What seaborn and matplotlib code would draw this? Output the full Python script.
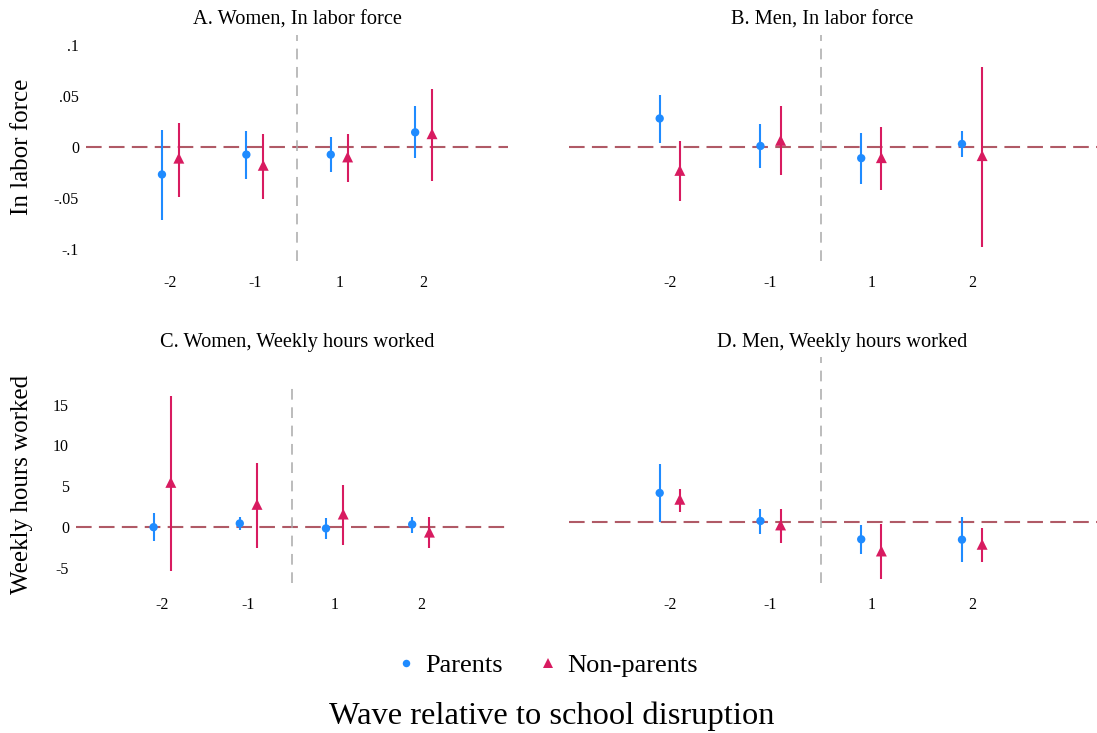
import numpy as np
import pandas as pd
import matplotlib
matplotlib.use("Agg")
import matplotlib.pyplot as plt
import seaborn as sns

# waves relative to the school disruption
waves = ["-2", "-1", "1", "2"]
groups = ["Parents", "Non-parents"]

# A. Women, in labor force
lf_w_par = [-0.027, -0.0075, -0.0075, 0.0144]
lf_w_par_lo = [-0.072, -0.031, -0.025, -0.011]
lf_w_par_hi = [0.017, 0.0157, 0.0098, 0.040]
lf_w_non = [-0.011, -0.018, -0.0098, 0.013]
lf_w_non_lo = [-0.049, -0.051, -0.034, -0.033]
lf_w_non_hi = [0.024, 0.013, 0.013, 0.057]

# B. Men, in labor force
lf_m_par = [0.028, 0.001, -0.011, 0.003]
lf_m_par_lo = [0.004, -0.021, -0.036, -0.010]
lf_m_par_hi = [0.051, 0.023, 0.014, 0.016]
lf_m_non = [-0.023, 0.0065, -0.0105, -0.0085]
lf_m_non_lo = [-0.053, -0.028, -0.042, -0.098]
lf_m_non_hi = [0.006, 0.040, 0.020, 0.079]

# C. Women, weekly hours worked
hr_w_par = [-0.05, 0.41, -0.2, 0.29]
hr_w_par_lo = [-1.72, -0.41, -1.5, -0.74]
hr_w_par_hi = [1.64, 1.23, 1.07, 1.23]
hr_w_non = [5.45, 2.75, 1.56, -0.66]
hr_w_non_lo = [-5.4, -2.62, -2.2, -2.62]
hr_w_non_hi = [16.07, 7.87, 5.12, 1.19]

# D. Men, weekly hours worked
hr_m_par = [3.12, 0.11, -1.86, -1.9]
hr_m_par_lo = [0.0, -1.25, -3.48, -4.34]
hr_m_par_hi = [6.2, 1.36, -0.32, 0.5]
hr_m_non = [2.44, -0.32, -3.12, -2.4]
hr_m_non_lo = [1.08, -2.22, -6.09, -4.27]
hr_m_non_hi = [3.55, 1.43, -0.22, -0.68]

panels = {
    "A": (lf_w_par, lf_w_par_lo, lf_w_par_hi, lf_w_non, lf_w_non_lo, lf_w_non_hi),
    "B": (lf_m_par, lf_m_par_lo, lf_m_par_hi, lf_m_non, lf_m_non_lo, lf_m_non_hi),
    "C": (hr_w_par, hr_w_par_lo, hr_w_par_hi, hr_w_non, hr_w_non_lo, hr_w_non_hi),
    "D": (hr_m_par, hr_m_par_lo, hr_m_par_hi, hr_m_non, hr_m_non_lo, hr_m_non_hi),
}

rows = []
for key, (pe, plo, phi, ne, nlo, nhi) in panels.items():
    for i, w in enumerate(waves):
        rows.append([key, "Parents", w, i + 1 - 0.1, pe[i], plo[i], phi[i]])
        rows.append([key, "Non-parents", w, i + 1 + 0.1, ne[i], nlo[i], nhi[i]])
df = pd.DataFrame(rows, columns=["panel", "group", "wave", "pos", "est", "lo", "hi"])

sns.set_style("white")
plt.rcParams["font.family"] = ["Liberation Serif", "DejaVu Serif"]
plt.rcParams["text.color"] = "black"
plt.rcParams["xtick.color"] = "black"
plt.rcParams["ytick.color"] = "black"

colors = {"Parents": "#1f8bff", "Non-parents": "#d81b60"}
markers = {"Parents": "o", "Non-parents": "^"}
msizes = {"Parents": 36, "Non-parents": 62}

W, H = 1097, 733
fig = plt.figure(figsize=(W / 100, H / 100), dpi=100)

def box(l, r, t, b):
    return [l / W, 1 - b / H, (r - l) / W, (b - t) / H]

layout = {
    "A": box(86, 508, 35, 261),
    "B": box(569, 1097, 35, 261),
    "C": box(76, 507, 385, 583),
    "D": box(569, 1097, 357, 583),
}
xlims = {"A": (0, 5), "B": (0, 5.24), "C": (0, 5), "D": (0, 5.24)}
ylims = {"A": (-0.112, 0.11), "B": (-0.112, 0.11), "C": (-6.9, 17.4), "D": (-6.56, 17.74)}
titles = {
    "A": ("A. Women, In labor force", 297, 20),
    "B": ("B. Men, In labor force", 822, 20),
    "C": ("C. Women, Weekly hours worked", 297, 343),
    "D": ("D. Men, Weekly hours worked", 842, 343),
}

axes = {}
for key in ["A", "B", "C", "D"]:
    ax = fig.add_axes(layout[key])
    axes[key] = ax
    sub = df[df.panel == key]
    ax.axhline(0, color="#b05a66", lw=1.5, dashes=(7.5, 3.5), zorder=1)
    ax.axvline(2.5, color="#a9a9a9", lw=1.1, dashes=(7, 5), zorder=1)
    for g in groups:
        s = sub[sub.group == g]
        ax.vlines(s.pos, s.lo, s.hi, color=colors[g], lw=1.5, zorder=2)
    sns.scatterplot(data=sub, x="pos", y="est", hue="group", style="group", size="group",
                    palette=colors, markers=markers, sizes=msizes, hue_order=groups,
                    style_order=groups, size_order=groups, linewidth=0, zorder=3, ax=ax)
    ax.set_xlim(*xlims[key])
    ax.set_ylim(*ylims[key])
    ax.set_xticks(range(1, 5))
    ax.set_xticklabels(waves)
    ax.set_xlabel("")
    ax.set_ylabel("")
    ax.tick_params(axis="both", length=0, labelsize=11.5)
    ax.tick_params(axis="x", pad=10)
    sns.despine(ax=ax, left=True, bottom=True)
    ax.get_legend().remove()
    t, tx, ty = titles[key]
    fig.text(tx / W, 1 - ty / H, t, ha="center", va="center", fontsize=14.7)

axes["A"].set_yticks([0.1, 0.05, 0, -0.05, -0.1])
axes["A"].set_yticklabels([".1", ".05", "0", "-.05", "-.1"])
axes["A"].tick_params(axis="y", pad=5)
axes["C"].set_yticks([15, 10, 5, 0, -5])
axes["C"].set_yticklabels(["15", "10", "5", "0", "-5"])
axes["C"].tick_params(axis="y", pad=5)
for key in ["B", "D"]:
    axes[key].set_yticks([])

fig.text(22 / W, 1 - 147 / H, "In labor force", rotation=90, ha="center", va="center", fontsize=18)
fig.text(22 / W, 1 - 484 / H, "Weekly hours worked", rotation=90, ha="center", va="center", fontsize=18)

handles, labels = axes["A"].get_legend_handles_labels()
fig.legend(handles, labels, loc="center", bbox_to_anchor=(548 / W, 1 - 665 / H), ncol=2,
           frameon=False, fontsize=19, handlelength=0.6, handletextpad=0.45,
           columnspacing=1.4, markerscale=0.9)
fig.text(552 / W, 1 - 716 / H, "Wave relative to school disruption", ha="center", va="center", fontsize=23.4)

fig.savefig("out.png", dpi=100)
